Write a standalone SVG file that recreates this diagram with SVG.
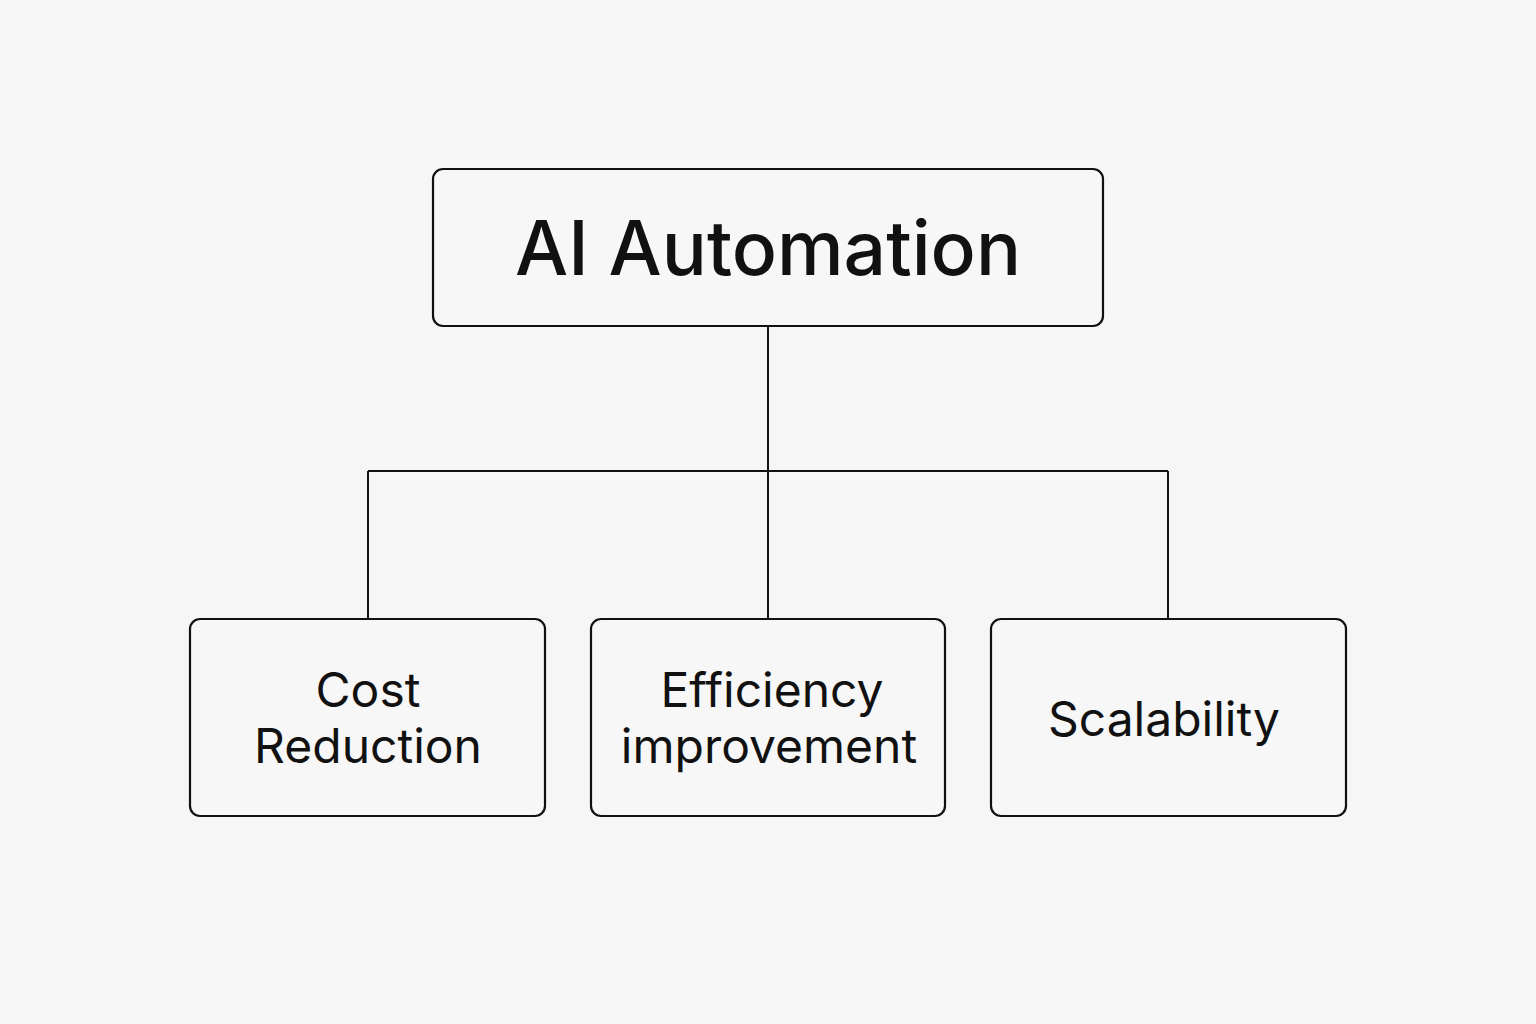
<svg xmlns="http://www.w3.org/2000/svg" width="1536" height="1024" viewBox="0 0 1536 1024">
<style>
.box{fill:#f7f7f7;stroke:#111;stroke-width:2.2}
.lbl{font-family:Inter,"Noto Sans",sans-serif;fill:#111;text-anchor:middle}
.sub{font-size:48px}
.conn{fill:none;stroke:#111;stroke-width:2}
</style>
<rect width="1536" height="1024" fill="#f6f6f6"/>
<g id="connectors">
<path class="conn" d="M768 327V619M368 471H1168M368 471V619M1168 471V619"/>
</g>
<g id="node-ai">
<rect class="box" x="433" y="169" width="670" height="157" rx="10"/>
<text class="lbl" x="768" y="275" font-size="75" font-weight="500">AI Automation</text>
</g>
<g id="node-cost">
<rect class="box" x="190" y="619" width="355" height="197" rx="10"/>
<text class="lbl sub" x="368" y="707">Cost</text>
<text class="lbl sub" x="368" y="763">Reduction</text>
</g>
<g id="node-eff">
<rect class="box" x="591" y="619" width="354" height="197" rx="10"/>
<text class="lbl sub" x="772" y="707">Efficiency</text>
<text class="lbl sub" x="769" y="763">improvement</text>
</g>
<g id="node-scale">
<rect class="box" x="991" y="619" width="355" height="197" rx="10"/>
<text class="lbl sub" x="1164" y="736">Scalability</text>
</g>
</svg>
